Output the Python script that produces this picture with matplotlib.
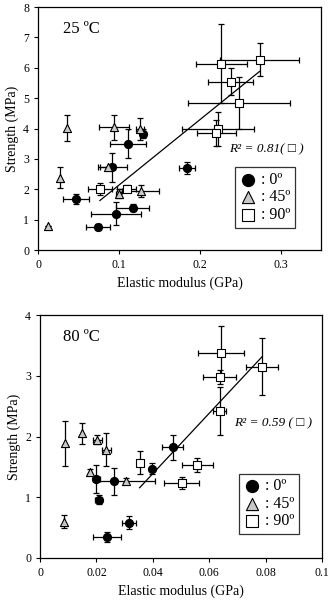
import numpy as np
import matplotlib
matplotlib.use("Agg")
import matplotlib.pyplot as plt

plt.rcParams['font.family'] = ['Liberation Serif', 'DejaVu Sans']

# ---------------- 25 ºC data ----------------
t25_c_x = [0.1296, 0.111, 0.092, 0.184, 0.0465, 0.117, 0.096, 0.0737]
t25_c_y = [3.83, 3.50, 2.73, 2.71, 1.69, 1.39, 1.20, 0.76]
t25_c_xe = [0.004, 0.022, 0.018, 0.010, 0.016, 0.020, 0.031, 0.015]
t25_c_ye = [0.15, 0.48, 0.48, 0.20, 0.17, 0.12, 0.37, 0.10]

t25_t_x = [0.0358, 0.094, 0.126, 0.086, 0.027, 0.100, 0.127, 0.0128]
t25_t_y = [4.02, 4.04, 3.98, 2.73, 2.38, 1.86, 1.94, 0.79]
t25_t_xe = [0.0, 0.019, 0.005, 0.009, 0.0, 0.003, 0.023, 0.0]
t25_t_ye = [0.43, 0.42, 0.37, 0.0, 0.35, 0.15, 0.20, 0.0]

t25_s_x = [0.2268, 0.274, 0.238, 0.249, 0.2226, 0.2206, 0.0765, 0.1095]
t25_s_y = [6.14, 6.27, 5.54, 4.84, 3.99, 3.85, 2.02, 2.02]
t25_s_xe = [0.032, 0.049, 0.028, 0.063, 0.045, 0.024, 0.015, 0.012]
t25_s_ye = [1.31, 0.54, 0.45, 0.85, 0.55, 0.43, 0.20, 0.12]

# ---------------- 80 ºC data ----------------
t80_c_x = [0.0200, 0.0261, 0.0208, 0.0237, 0.0317, 0.0397, 0.0470]
t80_c_y = [1.30, 1.26, 0.96, 0.35, 0.58, 1.47, 1.82]
t80_c_xe = [0.0012, 0.0, 0.0012, 0.0051, 0.0025, 0.0, 0.0038]
t80_c_ye = [0.23, 0.22, 0.07, 0.08, 0.11, 0.09, 0.20]

t80_t_x = [0.0088, 0.0149, 0.0203, 0.0235, 0.0176, 0.0303, 0.0086]
t80_t_y = [1.89, 2.05, 1.95, 1.78, 1.42, 1.27, 0.60]
t80_t_xe = [0.0, 0.0, 0.0015, 0.0015, 0.0, 0.0105, 0.0]
t80_t_ye = [0.37, 0.18, 0.07, 0.27, 0.04, 0.04, 0.10]

t80_s_x = [0.0353, 0.0502, 0.0558, 0.0641, 0.0637, 0.0788, 0.0638]
t80_s_y = [1.57, 1.24, 1.53, 3.38, 2.98, 3.15, 2.42]
t80_s_xe = [0.001, 0.0062, 0.0054, 0.0082, 0.0059, 0.0057, 0.0023]
t80_s_ye = [0.19, 0.10, 0.12, 0.44, 0.12, 0.47, 0.39]

legend_labels = [": 0º", ": 45º", ": 90º"]

fig = plt.figure(figsize=(3.31, 6.0), dpi=100)
ax1 = fig.add_axes([0.115, 0.5833, 0.855, 0.405])
ax2 = fig.add_axes([0.121, 0.07, 0.852, 0.405])

ebkw = dict(ecolor='black', elinewidth=0.9, capsize=2.2, capthick=0.9, linestyle='none', zorder=2)

def panel(ax, cx, cy, cxe, cye, tx, ty, txe, tye, sx, sy, sxe, sye):
    ax.errorbar(sx, sy, xerr=sxe, yerr=sye, **ebkw)
    ax.errorbar(tx, ty, xerr=txe, yerr=tye, **ebkw)
    ax.errorbar(cx, cy, xerr=cxe, yerr=cye, **ebkw)
    h0 = ax.scatter(cx, cy, marker='o', s=34, facecolor='black', edgecolor='black', lw=0.8, zorder=4)
    h1 = ax.scatter(tx, ty, marker='^', s=34, facecolor='#c8c8c8', edgecolor='black', lw=0.8, zorder=4)
    h2 = ax.scatter(sx, sy, marker='s', s=30, facecolor='white', edgecolor='black', lw=0.8, zorder=4)
    # regression line for squares
    p = np.polyfit(sx, sy, 1)
    xl = np.array([min(sx), max(sx)])
    ax.plot(xl, np.polyval(p, xl), color='black', lw=0.9, zorder=3)
    return [h0, h1, h2]

def style(ax, xlim, ylim, xticks, yticks, xtl):
    ax.set_xlim(*xlim)
    ax.set_ylim(*ylim)
    ax.set_xticks(xticks)
    ax.set_xticklabels(xtl)
    ax.set_yticks(yticks)
    ax.tick_params(direction='out', length=3, width=0.8, labelsize=8.5)
    for s in ax.spines.values():
        s.set_linewidth(0.9)
    ax.set_xlabel("Elastic modulus (GPa)", fontsize=10, labelpad=4)
    ax.set_ylabel("Strength (MPa)", fontsize=10, labelpad=3)

def legend(ax, handles, anchor):
    lg = ax.legend(handles, legend_labels, loc='upper left', bbox_to_anchor=anchor,
                   frameon=True, fancybox=False, edgecolor='black', fontsize=11.5,
                   markerscale=1.5, handlelength=1.0, handletextpad=0.3,
                   borderpad=0.3, labelspacing=0.08, borderaxespad=0.0)
    lg.get_frame().set_linewidth(0.9)

h = panel(ax1, t25_c_x, t25_c_y, t25_c_xe, t25_c_ye, t25_t_x, t25_t_y, t25_t_xe, t25_t_ye,
          t25_s_x, t25_s_y, t25_s_xe, t25_s_ye)
style(ax1, (0, 0.35), (0, 8), [0, 0.1, 0.2, 0.3], range(0, 9), ["0", "0.1", "0.2", "0.3"])
legend(ax1, h, (0.696, 0.34))
ax1.text(0.087, 0.908, "25 ºC", transform=ax1.transAxes, fontsize=12, va='center', ha='left')
ax1.text(0.94, 0.414, "R² = 0.81( □ )", transform=ax1.transAxes, fontsize=9.5,
         va='center', ha='right', style='italic')

h = panel(ax2, t80_c_x, t80_c_y, t80_c_xe, t80_c_ye, t80_t_x, t80_t_y, t80_t_xe, t80_t_ye,
          t80_s_x, t80_s_y, t80_s_xe, t80_s_ye)
style(ax2, (0, 0.1), (0, 4), [0, 0.02, 0.04, 0.06, 0.08, 0.1], range(0, 5),
      ["0", "0.02", "0.04", "0.06", "0.08", "0.1"])
legend(ax2, h, (0.707, 0.347))
ax2.text(0.083, 0.909, "80 ºC", transform=ax2.transAxes, fontsize=12, va='center', ha='left')
ax2.text(0.963, 0.553, "R² = 0.59 ( □ )", transform=ax2.transAxes, fontsize=9.5,
         va='center', ha='right', style='italic')

fig.savefig("out.png", dpi=100)
